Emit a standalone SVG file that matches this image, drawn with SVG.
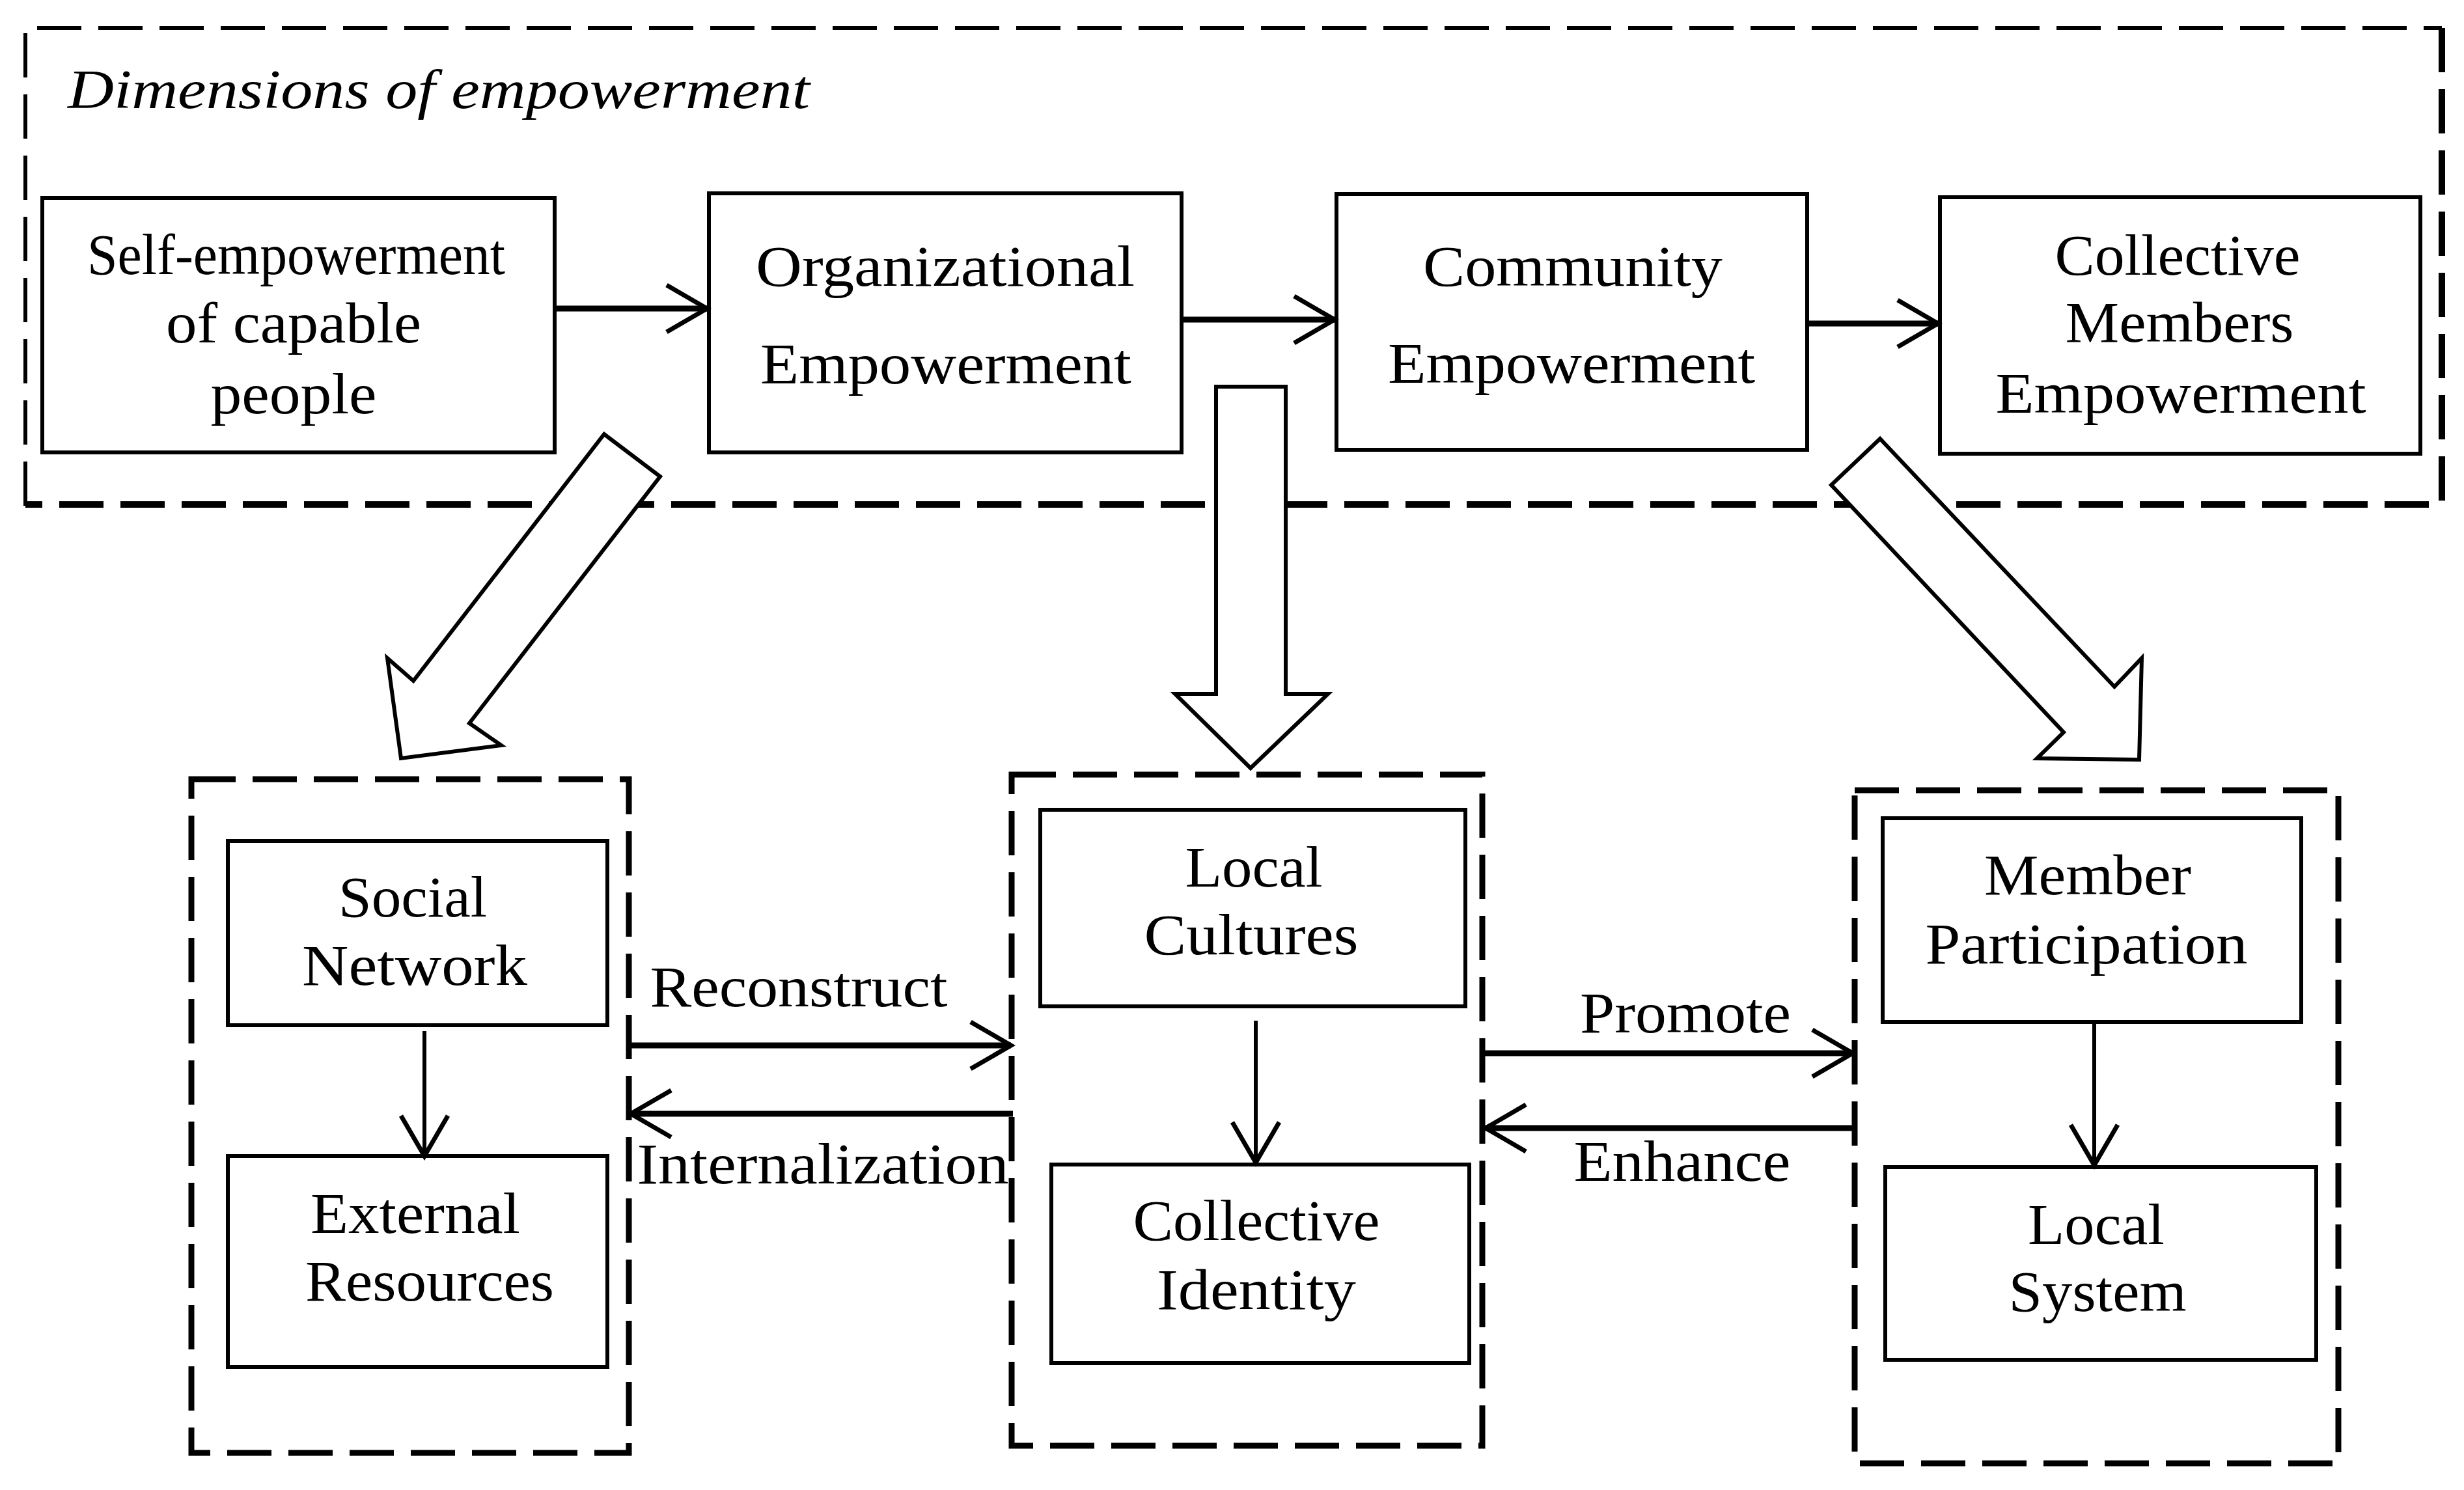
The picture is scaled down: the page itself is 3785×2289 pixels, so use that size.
<svg xmlns="http://www.w3.org/2000/svg" width="3785" height="2289" viewBox="0 0 3785 2289">
<style>
.box{fill:#fff;stroke:#000;stroke-width:6}
.dash{fill:none;stroke:#000;stroke-dasharray:68 26}
.t{font-family:"Liberation Serif","Times New Roman",serif;font-size:88px;fill:#000;text-anchor:middle}
.ti{font-family:"Liberation Serif","Times New Roman",serif;font-size:84px;font-style:italic;fill:#000}
.c{stroke:#000;fill:none;marker-end:url(#ah)}
.big{fill:#fff;stroke:#000;stroke-width:6;stroke-linejoin:miter}
</style>
<defs>
<marker id="ah" markerUnits="userSpaceOnUse" viewBox="-75 -45 85 90" markerWidth="85" markerHeight="90" refX="0" refY="0" orient="auto" overflow="visible">
<path d="M-62,-36 L0,0 L-62,36" fill="none" stroke="#000" stroke-width="7"/>
</marker>
</defs>
<rect width="3785" height="2289" fill="#fff"/>

<g id="dimensions-frame">
<path class="dash" d="M39,777 L39,43 L3751,43" stroke-width="6"/>
<path class="dash" d="M3751,43 L3751,775 L39,775" stroke-width="10"/>
<text class="ti" x="104" y="166" textLength="1140" lengthAdjust="spacingAndGlyphs">Dimensions of empowerment</text>
</g>

<g id="self-empowerment">
<rect class="box" x="65" y="304" width="787" height="391"/>
<text class="t" x="455" y="421" textLength="642" lengthAdjust="spacingAndGlyphs">Self-empowerment</text>
<text class="t" x="451" y="526" textLength="392" lengthAdjust="spacingAndGlyphs">of capable</text>
<text class="t" x="451" y="635" textLength="255" lengthAdjust="spacingAndGlyphs">people</text>
</g>

<g id="organizational-empowerment">
<rect class="box" x="1089" y="297" width="726" height="398"/>
<text class="t" x="1452" y="439" textLength="582" lengthAdjust="spacingAndGlyphs">Organizational</text>
<text class="t" x="1453" y="589" textLength="570" lengthAdjust="spacingAndGlyphs">Empowerment</text>
</g>

<g id="community-empowerment">
<rect class="box" x="2053" y="298" width="723" height="393"/>
<text class="t" x="2416" y="439" textLength="460" lengthAdjust="spacingAndGlyphs">Community</text>
<text class="t" x="2414" y="588" textLength="564" lengthAdjust="spacingAndGlyphs">Empowerment</text>
</g>

<g id="collective-members-empowerment">
<rect class="box" x="2980" y="303" width="738" height="394"/>
<text class="t" x="3345" y="422" textLength="377" lengthAdjust="spacingAndGlyphs">Collective</text>
<text class="t" x="3348" y="525" textLength="351" lengthAdjust="spacingAndGlyphs">Members</text>
<text class="t" x="3350" y="634" textLength="569" lengthAdjust="spacingAndGlyphs">Empowerment</text>
</g>

<g id="block-arrows">
<polygon class="big" points="928,667 1014,732 721,1111 770,1145 616,1165 595,1011 635,1046"/>
<polygon class="big" points="1868,594 1975,594 1975,1066 2040,1066 1921,1180 1805,1066 1868,1066" stroke-width="7"/>
<polygon class="big" points="2888,674 2813,745 3170,1125 3129,1165 3286,1167 3290,1011 3248,1055"/>
</g>

<g id="group-left">
<rect class="dash" x="294" y="1197" width="672" height="1035" stroke-width="9"/>
</g>
<g id="social-network">
<rect class="box" x="350" y="1292" width="583" height="283"/>
<text class="t" x="634" y="1408" textLength="228" lengthAdjust="spacingAndGlyphs">Social</text>
<text class="t" x="637" y="1513" textLength="346" lengthAdjust="spacingAndGlyphs">Network</text>
</g>
<g id="external-resources">
<rect class="box" x="350" y="1776" width="583" height="324"/>
<text class="t" x="638" y="1894" textLength="322" lengthAdjust="spacingAndGlyphs">External</text>
<text class="t" x="660" y="1998" textLength="382" lengthAdjust="spacingAndGlyphs">Resources</text>
</g>

<g id="group-middle">
<rect class="dash" x="1554" y="1190" width="723" height="1031" stroke-width="9"/>
</g>
<g id="local-cultures">
<rect class="box" x="1598" y="1244" width="653" height="302"/>
<text class="t" x="1926" y="1362" textLength="211" lengthAdjust="spacingAndGlyphs">Local</text>
<text class="t" x="1922" y="1466" textLength="329" lengthAdjust="spacingAndGlyphs">Cultures</text>
</g>
<g id="collective-identity">
<rect class="box" x="1615" y="1789" width="642" height="305"/>
<text class="t" x="1930" y="1905" textLength="379" lengthAdjust="spacingAndGlyphs">Collective</text>
<text class="t" x="1930" y="2011" textLength="306" lengthAdjust="spacingAndGlyphs">Identity</text>
</g>

<g id="group-right">
<rect class="dash" x="2849" y="1214" width="743" height="1034" stroke-width="9"/>
</g>
<g id="member-participation">
<rect class="box" x="2892" y="1257" width="643" height="313"/>
<text class="t" x="3207" y="1374" textLength="318" lengthAdjust="spacingAndGlyphs">Member</text>
<text class="t" x="3205" y="1480" textLength="495" lengthAdjust="spacingAndGlyphs">Participation</text>
</g>
<g id="local-system">
<rect class="box" x="2896" y="1793" width="662" height="296"/>
<text class="t" x="3220" y="1911" textLength="210" lengthAdjust="spacingAndGlyphs">Local</text>
<text class="t" x="3222" y="2014" textLength="273" lengthAdjust="spacingAndGlyphs">System</text>
</g>

<g id="connectors">
<line class="c" x1="852" y1="474" x2="1086" y2="474" stroke-width="9"/>
<line class="c" x1="1815" y1="491" x2="2050" y2="491" stroke-width="9"/>
<line class="c" x1="2776" y1="497" x2="2977" y2="497" stroke-width="9"/>
<line class="c" x1="652" y1="1584" x2="652" y2="1776" stroke-width="6"/>
<line class="c" x1="1929" y1="1568" x2="1929" y2="1786" stroke-width="6"/>
<line class="c" x1="3217" y1="1571" x2="3217" y2="1790" stroke-width="6"/>
<line class="c" x1="966" y1="1606" x2="1553" y2="1606" stroke-width="9"/>
<line class="c" x1="1556" y1="1711" x2="969" y2="1711" stroke-width="9"/>
<line class="c" x1="2279" y1="1618" x2="2846" y2="1618" stroke-width="9"/>
<line class="c" x1="2848" y1="1733" x2="2282" y2="1733" stroke-width="9"/>
<text class="t" x="1227" y="1546" textLength="457" lengthAdjust="spacingAndGlyphs">Reconstruct</text>
<text class="t" x="1264" y="1818" textLength="571" lengthAdjust="spacingAndGlyphs">Internalization</text>
<text class="t" x="2589" y="1586" textLength="324" lengthAdjust="spacingAndGlyphs">Promote</text>
<text class="t" x="2584" y="1814" textLength="333" lengthAdjust="spacingAndGlyphs">Enhance</text>
</g>
</svg>
